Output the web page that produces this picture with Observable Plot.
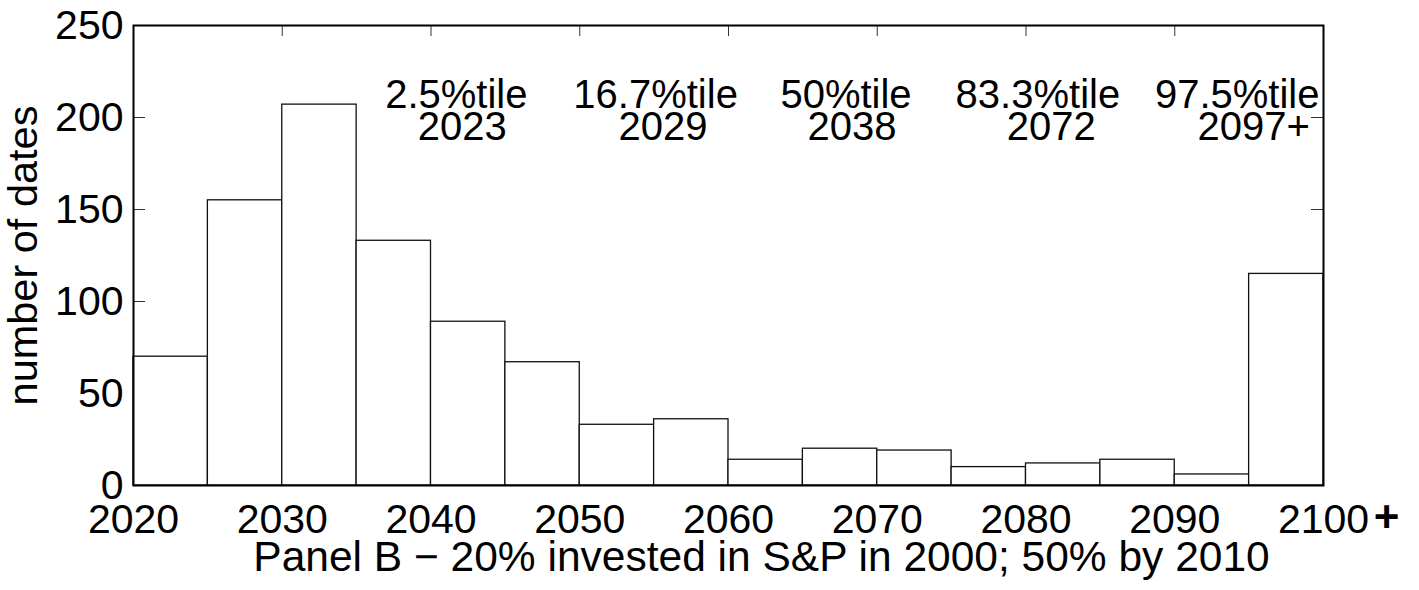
<!DOCTYPE html>
<html><head><meta charset="utf-8">
<script src="https://cdn.jsdelivr.net/npm/d3@7"></script>
<script src="https://cdn.jsdelivr.net/npm/@observablehq/plot@0.6"></script>
<style>body{margin:0;background:#fff}</style>
</head><body><div id="chart"></div>
<script>
// Histogram bins (5-year bins starting at these years) and counts
const binStarts = [2020, 2025, 2030, 2035, 2040, 2045, 2050, 2055, 2060, 2065, 2070, 2075, 2080, 2085, 2090, 2095];
const counts    = [70, 155, 207, 133, 89, 67, 33, 36, 14, 20, 19, 10, 12, 14, 6, 115];
const binWidth = 5;

const xTicks = [2020, 2030, 2040, 2050, 2060, 2070, 2080, 2090, 2100];
const yTicks = [0, 50, 100, 150, 200, 250];

// Percentile annotations
const pctLabels = ["2.5%tile", "16.7%tile", "50%tile", "83.3%tile", "97.5%tile"];
const pctYears  = ["2023", "2029", "2038", "2072", "2097+"];
const pctLabelAt = [2041.7, 2055.1, 2067.9, 2080.8, 2094.2];
const pctYearAt  = [2042.1, 2055.6, 2068.3, 2081.7, 2095.3];

const xLabel = "Panel B \u2212 20% invested in S&P in 2000; 50% by 2010";
const yLabel = "number of dates";

const bins = binStarts.map((s, i) => ({x1: s, x2: s + binWidth, count: counts[i]}));
const ann1 = pctLabels.map((t, i) => ({x: pctLabelAt[i], t}));
const ann2 = pctYears.map((t, i) => ({x: pctYearAt[i], t}));

const font = "'Liberation Sans', Arial, Helvetica, sans-serif";
const W = 1419, H = 590;
const mL = 133, mR = 96, mT = 25, mB = 105;
const plotH = H - mT - mB, plotW = W - mL - mR;
const tl = 12;

const chart = Plot.plot({
  width: W, height: H,
  marginLeft: mL, marginRight: mR, marginTop: mT, marginBottom: mB,
  style: {fontFamily: font, fontSize: "41px", background: "white", color: "black", overflow: "visible"},
  x: {domain: [2020, 2100]},
  y: {domain: [0, 250]},
  marks: [
    // inward ticks
    Plot.tickX(xTicks, {x: d => d, insetTop: plotH - 11, stroke: "#333", strokeWidth: 1}),
    Plot.tickX(xTicks, {x: d => d, insetBottom: plotH - 11, stroke: "#333", strokeWidth: 1}),
    Plot.tickY(yTicks, {y: d => d, insetRight: plotW - tl, stroke: "#333", strokeWidth: 1}),
    Plot.tickY(yTicks, {y: d => d, insetLeft: plotW - tl, stroke: "#333", strokeWidth: 1}),
    // bars
    Plot.rectY(bins, {x1: "x1", x2: "x2", y: "count", fill: "white", stroke: "#111", strokeWidth: 1.3}),
    Plot.frame({stroke: "black", strokeWidth: 2}),
    // axes labels
    Plot.axisX({ticks: xTicks, anchor: "bottom", tickSize: 0, tickPadding: 18, tickFormat: d => String(d), label: null, fontSize: 41}),
    Plot.axisY({ticks: yTicks, anchor: "left", tickSize: 0, tickPadding: 10, tickFormat: d => String(d), label: null, fontSize: 41}),
    Plot.text(["+"], {x: 2100, frameAnchor: "bottom", dx: 63, dy: 32, fontSize: 44, fontWeight: "bold", textAnchor: "middle", lineAnchor: "middle"}),
    // axis titles
    Plot.text([xLabel], {frameAnchor: "bottom", dx: 33, dy: 72, fontSize: 42.5, textAnchor: "middle", lineAnchor: "middle"}),
    Plot.text([yLabel], {frameAnchor: "left", dx: -110, rotate: -90, fontSize: 41.5, textAnchor: "middle", lineAnchor: "middle"}),
    // percentile annotations
    Plot.text(ann1, {x: "x", y: () => 212, text: "t", fontSize: 40, textAnchor: "middle", lineAnchor: "middle"}),
    Plot.text(ann2, {x: "x", y: () => 194.6, text: "t", fontSize: 40, textAnchor: "middle", lineAnchor: "middle"})
  ]
});
document.getElementById("chart").appendChild(chart);
</script>
</body></html>
